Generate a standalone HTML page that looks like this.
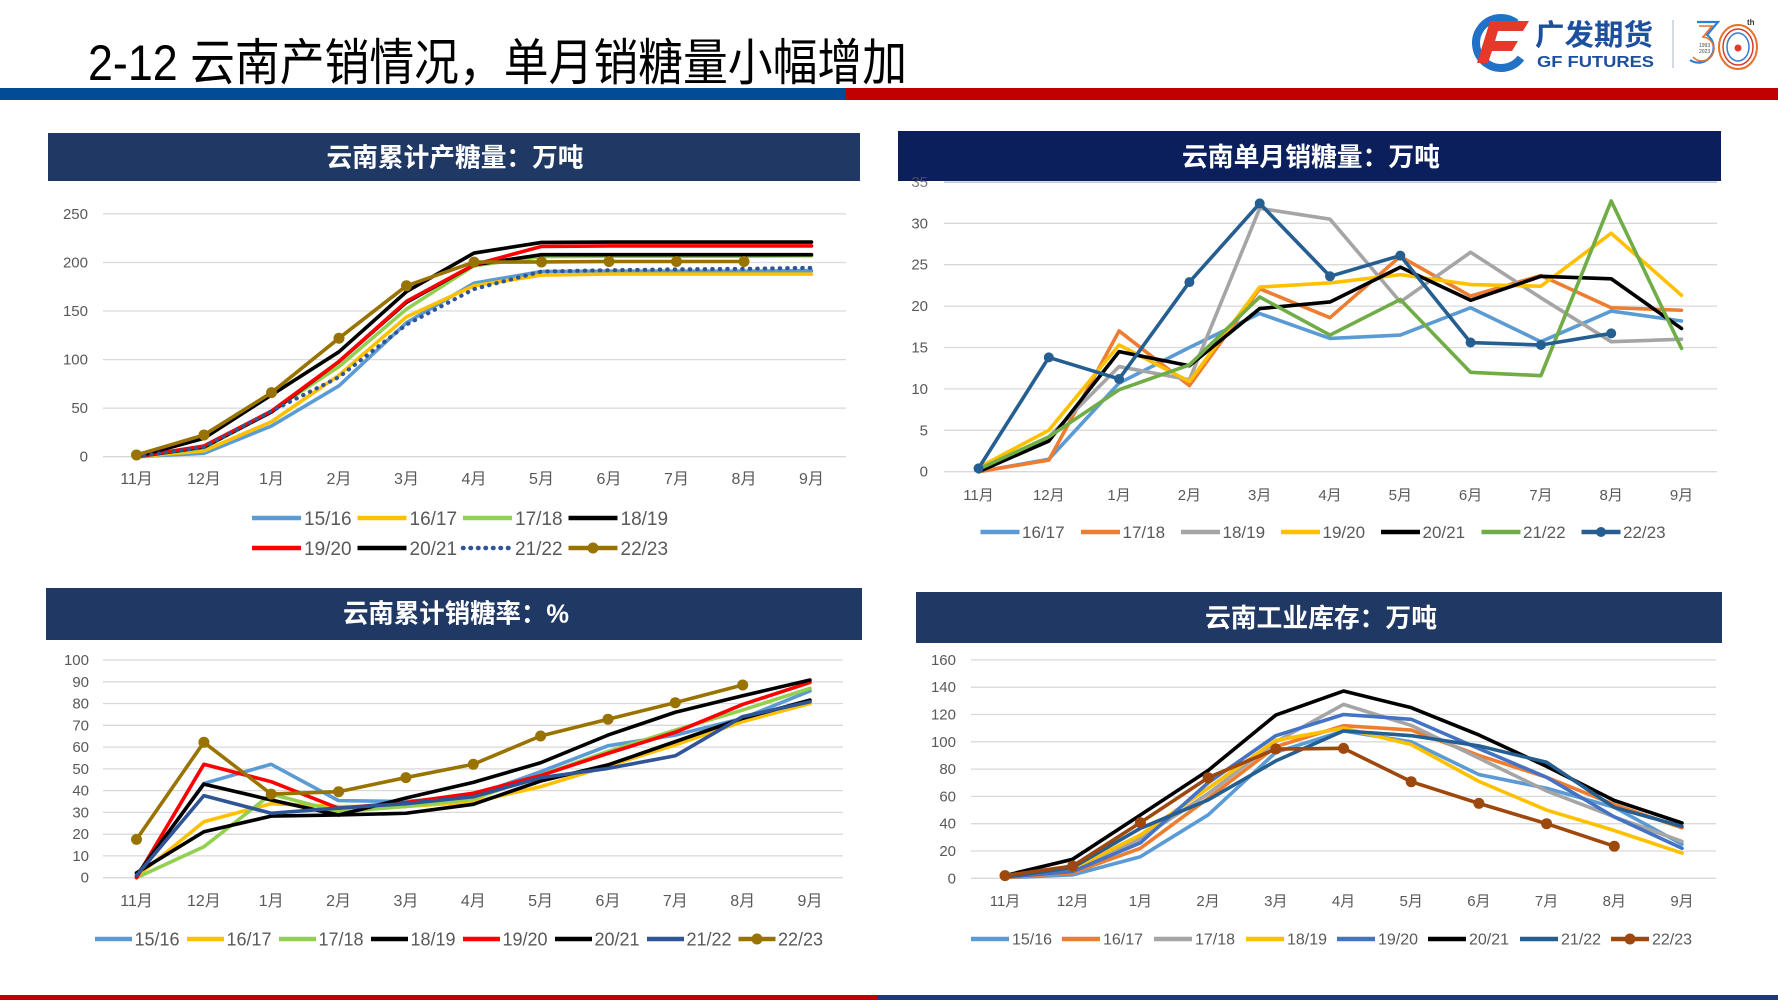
<!DOCTYPE html>
<html>
<head>
<meta charset="utf-8">
<style>
html,body{margin:0;padding:0;background:#fff;}
svg{display:block;}
.t{font-family:"Liberation Sans","Noto Sans CJK SC",sans-serif;}
.ax{font-family:"Liberation Sans","Noto Sans CJK SC",sans-serif;font-size:15px;fill:#595959;}
.xl{font-family:"Liberation Sans","Noto Sans CJK SC",sans-serif;font-size:16px;fill:#595959;text-anchor:middle;}
.yl{text-anchor:end;}
.ct{font-family:"Liberation Sans","Noto Sans CJK SC",sans-serif;font-size:26px;font-weight:bold;fill:#fff;text-anchor:middle;}
.g line{stroke:#d9d9d9;stroke-width:1.3;}
.s polyline{fill:none;vector-effect:non-scaling-stroke;stroke-width:3.6;stroke-linejoin:round;stroke-linecap:round;}
.lg line{stroke-width:4.5;}
.lg text{font-family:"Liberation Sans",sans-serif;fill:#595959;}
</style>
</head>
<body>
<svg width="1778" height="1000" viewBox="0 0 1778 1000" xmlns="http://www.w3.org/2000/svg">
<rect x="0" y="0" width="1778" height="1000" fill="#fff"/>

<!-- header -->
<text class="t" x="88" y="80" font-size="50" fill="#000" textLength="819" lengthAdjust="spacingAndGlyphs">2-12 云南产销情况，单月销糖量小幅增加</text>
<rect x="0" y="88" width="846" height="12" fill="#024c96"/>
<rect x="845" y="88" width="933" height="12" fill="#c00000"/>

<!-- logo -->
<path d="M1516 23 A25 25 0 1 0 1521 58" fill="none" stroke="#2171c7" stroke-width="8"/>
<path d="M1490 21 L1529 21 L1523 31 L1498 31 L1495 41 L1518 41 L1512 51 L1492 51 L1488 63 L1477 63 Z" fill="#e5392a"/>
<text class="t" x="1535" y="45" font-size="29" font-weight="bold" fill="#1d4f9f" textLength="118" lengthAdjust="spacingAndGlyphs">广发期货</text>
<text x="1537" y="67" font-family="Liberation Sans" font-size="16" font-weight="bold" fill="#1d4f9f" textLength="117" lengthAdjust="spacingAndGlyphs">GF FUTURES</text>
<line x1="1673" y1="20" x2="1673" y2="68" stroke="#b8c2d2" stroke-width="1.2"/>
<path d="M1697 22 H1718 L1707 35 A15 15 0 1 1 1690 60" fill="none" stroke="#2f7fd1" stroke-width="2.2"/>
<path d="M1699 26 H1712 L1703 37 A12 12 0 1 1 1693 57" fill="none" stroke="#e8702a" stroke-width="1.6"/>
<ellipse cx="1738" cy="47" rx="19" ry="22" fill="none" stroke="#e8702a" stroke-width="2"/>
<ellipse cx="1738" cy="47" rx="15" ry="18" fill="none" stroke="#d93a2b" stroke-width="1.5"/>
<ellipse cx="1738" cy="47" rx="11" ry="14" fill="none" stroke="#2f7fd1" stroke-width="1.5"/>
<circle cx="1738" cy="48" r="3.5" fill="#e5392a"/>
<text x="1747" y="25" font-family="Liberation Sans" font-size="8" font-weight="bold" fill="#333">th</text>
<text x="1699" y="47" font-family="Liberation Sans" font-size="5" fill="#444">1993</text>
<text x="1699" y="53" font-family="Liberation Sans" font-size="5" fill="#444">2023</text>

<!-- ================= CHART 1 ================= -->
<rect x="48" y="133" width="812" height="48" fill="#203864"/>
<text class="ct" x="455" y="166.5" textLength="257" lengthAdjust="spacingAndGlyphs">云南累计产糖量：万吨</text>
<g class="g">
<line x1="103" x2="846" y1="456.7" y2="456.7"/>
<line x1="103" x2="846" y1="408.1" y2="408.1"/>
<line x1="103" x2="846" y1="359.6" y2="359.6"/>
<line x1="103" x2="846" y1="311.0" y2="311.0"/>
<line x1="103" x2="846" y1="262.5" y2="262.5"/>
<line x1="103" x2="846" y1="213.9" y2="213.9"/>
</g>
<g class="ax yl">
<text x="88" y="461.7">0</text>
<text x="88" y="413.1">50</text>
<text x="88" y="364.6">100</text>
<text x="88" y="316.0">150</text>
<text x="88" y="267.5">200</text>
<text x="88" y="218.9">250</text>
</g>
<g class="xl">
<text x="136.5" y="484">11月</text><text x="204" y="484">12月</text><text x="271.5" y="484">1月</text><text x="339" y="484">2月</text><text x="406.5" y="484">3月</text><text x="474" y="484">4月</text><text x="541.5" y="484">5月</text><text x="609" y="484">6月</text><text x="676.5" y="484">7月</text><text x="744" y="484">8月</text><text x="811.5" y="484">9月</text>
</g>
<g class="s" transform="translate(136.5 456.7) scale(67.5 -0.9712)">
<polyline stroke="#5b9bd5" points="0,0 1,3.5 2,31.6 3,73 4,138 5,178.7 6,190.7 7,191 8,191 9,191 10,191.5"/>
<polyline stroke="#ffc000" points="0,0 1,6 2,36 3,84 4,144 5,176 6,187 7,188 8,188 9,188 10,188"/>
<polyline stroke="#92d050" points="0,0 1,9 2,47 3,92.8 4,152 5,196.6 6,206 7,206.5 8,206.5 9,206.5 10,207"/>
<polyline stroke="#000000" points="0,0 1,10 2,46 3,98 4,159 5,197.5 6,208 7,208 8,208 9,208 10,208"/>
<polyline stroke="#ff0000" points="0,0 1,11 2,47 3,98 4,160 5,197.6 6,216.5 7,217 8,217 9,217 10,217"/>
<polyline stroke="#000000" points="0,0 1,19 2,63.6 3,108 4,170 5,209.7 6,220.6 7,221 8,221 9,221 10,221"/>
</g>
<polyline fill="none" stroke="#2f5597" stroke-width="4" stroke-linecap="round" stroke-dasharray="0.5 7" points="136.5,456.7 204,447.0 271.5,411.1 339,377.1 406.5,324.6 474,289.1 541.5,271.5 609,270.2 676.5,269.3 744,268.8 811.5,267.8"/>
<g class="s" transform="translate(136.5 456.7) scale(67.5 -0.9712)">
<polyline stroke="#997300" points="0,1.8 1,22.4 2,66 3,122 4,176 5,200.4 6,200.5 7,201 8,201 9,201"/>
</g>
<g fill="#997300">
<circle cx="136.5" cy="454.95" r="5.5"/><circle cx="204" cy="434.95" r="5.5"/><circle cx="271.5" cy="392.6" r="5.5"/><circle cx="339" cy="338.2" r="5.5"/><circle cx="406.5" cy="285.8" r="5.5"/><circle cx="474" cy="262.1" r="5.5"/><circle cx="541.5" cy="262.0" r="5.5"/><circle cx="609" cy="261.5" r="5.5"/><circle cx="676.5" cy="261.5" r="5.5"/><circle cx="744" cy="261.5" r="5.5"/>
</g>
<g class="lg" font-size="19">
<line x1="252" x2="301" y1="518" y2="518" stroke="#5b9bd5"/><text x="304" y="524.8">15/16</text>
<line x1="357.5" x2="406.5" y1="518" y2="518" stroke="#ffc000"/><text x="409.5" y="524.8">16/17</text>
<line x1="463" x2="512" y1="518" y2="518" stroke="#92d050"/><text x="515" y="524.8">17/18</text>
<line x1="568.5" x2="617.5" y1="518" y2="518" stroke="#000"/><text x="620.5" y="524.8">18/19</text>
<line x1="252" x2="301" y1="548" y2="548" stroke="#ff0000"/><text x="304" y="554.8">19/20</text>
<line x1="357.5" x2="406.5" y1="548" y2="548" stroke="#000"/><text x="409.5" y="554.8">20/21</text>
<line x1="463" x2="512" y1="548" y2="548" stroke="#2f5597" stroke-width="4" stroke-linecap="round" stroke-dasharray="0.5 7"/><text x="515" y="554.8">21/22</text>
<line x1="568.5" x2="617.5" y1="548" y2="548" stroke="#997300"/><circle cx="593" cy="548" r="5.5" fill="#997300"/><text x="620.5" y="554.8">22/23</text>
</g>

<!-- ================= CHART 2 ================= -->
<rect x="898" y="131" width="823" height="50" fill="#0a1f5c"/>
<text class="ct" x="1311" y="166" textLength="258" lengthAdjust="spacingAndGlyphs">云南单月销糖量：万吨</text>
<g class="g">
<line x1="944" x2="1717" y1="471.7" y2="471.7"/>
<line x1="944" x2="1717" y1="430.3" y2="430.3"/>
<line x1="944" x2="1717" y1="388.9" y2="388.9"/>
<line x1="944" x2="1717" y1="347.5" y2="347.5"/>
<line x1="944" x2="1717" y1="306.1" y2="306.1"/>
<line x1="944" x2="1717" y1="264.7" y2="264.7"/>
<line x1="944" x2="1717" y1="223.3" y2="223.3"/>
<line x1="944" x2="1717" y1="182.2" y2="182.2" style="stroke:#b4c0d8"/>
</g>
<g class="ax yl">
<text x="928" y="476.7">0</text>
<text x="928" y="435.3">5</text>
<text x="928" y="393.9">10</text>
<text x="928" y="352.5">15</text>
<text x="928" y="311.1">20</text>
<text x="928" y="269.7">25</text>
<text x="928" y="228.3">30</text>
<text x="928" y="186.9" fill-opacity="0.8">35</text>
</g>
<g class="xl" font-size="15" style="font-size:15px">
<text x="978.5" y="500">11月</text><text x="1048.8" y="500">12月</text><text x="1119.1" y="500">1月</text><text x="1189.4" y="500">2月</text><text x="1259.7" y="500">3月</text><text x="1330" y="500">4月</text><text x="1400.3" y="500">5月</text><text x="1470.6" y="500">6月</text><text x="1540.9" y="500">7月</text><text x="1611.2" y="500">8月</text><text x="1681.5" y="500">9月</text>
</g>
<g class="s" transform="translate(978.5 471.7) scale(70.3 -8.28)">
<polyline stroke="#5b9bd5" points="0,0 1,1.5 2,10.7 3,15 4,19.1 5,16.1 6,16.5 7,19.8 8,15.7 9,19.4 10,18.2"/>
<polyline stroke="#ed7d31" points="0,0 1,1.4 2,17 3,10.4 4,22.1 5,18.6 6,26 7,21.2 8,23.7 9,19.8 10,19.5"/>
<polyline stroke="#a5a5a5" points="0,0 1,4.2 2,12.7 3,11.1 4,31.8 5,30.5 6,20.5 7,26.5 8,21 9,15.7 10,16"/>
<polyline stroke="#ffc000" points="0,0.5 1,5 2,15.3 3,10.9 4,22.3 5,22.8 6,23.8 7,22.6 8,22.4 9,28.8 10,21.3"/>
<polyline stroke="#000000" points="0,0 1,3.7 2,14.5 3,12.8 4,19.7 5,20.5 6,24.7 7,20.7 8,23.6 9,23.3 10,17.3"/>
<polyline stroke="#70ad47" points="0,0.3 1,4.2 2,9.9 3,12.9 4,21.1 5,16.5 6,20.8 7,12 8,11.6 9,32.7 10,14.9"/>
<polyline stroke="#255e91" points="0,0.4 1,13.8 2,11.2 3,22.9 4,32.4 5,23.6 6,26.1 7,15.6 8,15.3 9,16.7"/>
</g>
<g fill="#255e91">
<circle cx="978.5" cy="468.4" r="5"/><circle cx="1048.8" cy="357.4" r="5"/><circle cx="1119.1" cy="379.0" r="5"/><circle cx="1189.4" cy="282.1" r="5"/><circle cx="1259.7" cy="203.4" r="5"/><circle cx="1330" cy="276.3" r="5"/><circle cx="1400.3" cy="255.6" r="5"/><circle cx="1470.6" cy="342.5" r="5"/><circle cx="1540.9" cy="345.0" r="5"/><circle cx="1611.2" cy="333.4" r="5"/>
</g>
<g class="lg" font-size="17">
<line x1="980.5" x2="1019.5" y1="532" y2="532" stroke="#5b9bd5"/><text x="1022" y="538">16/17</text>
<line x1="1081" x2="1120" y1="532" y2="532" stroke="#ed7d31"/><text x="1122.5" y="538">17/18</text>
<line x1="1181" x2="1220" y1="532" y2="532" stroke="#a5a5a5"/><text x="1222.5" y="538">18/19</text>
<line x1="1281" x2="1320" y1="532" y2="532" stroke="#ffc000"/><text x="1322.5" y="538">19/20</text>
<line x1="1381" x2="1420" y1="532" y2="532" stroke="#000"/><text x="1422.5" y="538">20/21</text>
<line x1="1481.5" x2="1520.5" y1="532" y2="532" stroke="#70ad47"/><text x="1523" y="538">21/22</text>
<line x1="1581.5" x2="1620.5" y1="532" y2="532" stroke="#255e91"/><circle cx="1601" cy="532" r="5" fill="#255e91"/><text x="1623" y="538">22/23</text>
</g>

<!-- ================= CHART 3 ================= -->
<rect x="46" y="588" width="816" height="52" fill="#203864"/>
<text class="ct" x="456" y="622.5" textLength="226" lengthAdjust="spacingAndGlyphs">云南累计销糖率：%</text>
<g class="g">
<line x1="103" x2="843" y1="877.7" y2="877.7"/>
<line x1="103" x2="843" y1="855.9" y2="855.9"/>
<line x1="103" x2="843" y1="834.2" y2="834.2"/>
<line x1="103" x2="843" y1="812.4" y2="812.4"/>
<line x1="103" x2="843" y1="790.6" y2="790.6"/>
<line x1="103" x2="843" y1="768.9" y2="768.9"/>
<line x1="103" x2="843" y1="747.1" y2="747.1"/>
<line x1="103" x2="843" y1="725.3" y2="725.3"/>
<line x1="103" x2="843" y1="703.5" y2="703.5"/>
<line x1="103" x2="843" y1="681.8" y2="681.8"/>
<line x1="103" x2="843" y1="660.0" y2="660.0"/>
</g>
<g class="ax yl">
<text x="89" y="882.7">0</text>
<text x="89" y="860.9">10</text>
<text x="89" y="839.2">20</text>
<text x="89" y="817.4">30</text>
<text x="89" y="795.6">40</text>
<text x="89" y="773.9">50</text>
<text x="89" y="752.1">60</text>
<text x="89" y="730.3">70</text>
<text x="89" y="708.5">80</text>
<text x="89" y="686.8">90</text>
<text x="89" y="665.0">100</text>
</g>
<g class="xl">
<text x="136.5" y="906">11月</text><text x="203.9" y="906">12月</text><text x="271.2" y="906">1月</text><text x="338.6" y="906">2月</text><text x="405.9" y="906">3月</text><text x="473.3" y="906">4月</text><text x="540.6" y="906">5月</text><text x="608" y="906">6月</text><text x="675.3" y="906">7月</text><text x="742.7" y="906">8月</text><text x="810" y="906">9月</text>
</g>
<g class="s" transform="translate(136.5 877.7) scale(67.35 -2.177)">
<polyline stroke="#5b9bd5" points="0,0.5 1,43.3 2,52.1 3,35.4 4,35 5,37.6 6,48.7 7,60.6 8,65.5 9,73.2 10,85.8"/>
<polyline stroke="#ffc000" points="0,0.5 1,25.7 2,34 3,32.7 4,32.7 5,34.8 6,41.8 7,51.3 8,61 9,71.7 10,80"/>
<polyline stroke="#92d050" points="0,0 1,14.2 2,38.4 3,30.3 4,32.7 5,36.1 6,47 7,58 8,67.8 9,77 10,87"/>
<polyline stroke="#000000" points="0,2.2 1,21.1 2,28.3 3,28.8 4,29.6 5,33.7 6,44.4 7,51.8 8,62.5 9,73.2 10,81.6"/>
<polyline stroke="#ff0000" points="0,0 1,52.1 2,44.1 3,31.9 4,34.5 5,38.8 6,46.9 7,57.1 8,66.8 9,79.6 10,89.7"/>
<polyline stroke="#000000" points="0,1 1,43 2,35.7 3,28.8 4,36.6 5,43.8 6,52.8 7,65.5 8,76 9,83.6 10,90.8"/>
<polyline stroke="#2f5597" points="0,1 1,37.7 2,29.6 3,32 4,34 5,37.2 6,45.9 7,50.2 8,56 9,74 10,80.8"/>
<polyline stroke="#997300" points="0,17.6 1,62.2 2,38.4 3,39.5 4,46 5,52.1 6,65.1 7,72.8 8,80.4 9,88.5"/>
</g>
<g fill="#997300">
<circle cx="136.5" cy="839.4" r="5.5"/><circle cx="203.9" cy="742.3" r="5.5"/><circle cx="271.2" cy="794.1" r="5.5"/><circle cx="338.6" cy="791.7" r="5.5"/><circle cx="405.9" cy="777.6" r="5.5"/><circle cx="473.3" cy="764.3" r="5.5"/><circle cx="540.6" cy="736.0" r="5.5"/><circle cx="608" cy="719.2" r="5.5"/><circle cx="675.3" cy="702.7" r="5.5"/><circle cx="742.7" cy="685.0" r="5.5"/>
</g>
<g class="lg" font-size="18">
<line x1="95" x2="132" y1="939" y2="939" stroke="#5b9bd5"/><text x="134.5" y="945.5">15/16</text>
<line x1="187" x2="224" y1="939" y2="939" stroke="#ffc000"/><text x="226.5" y="945.5">16/17</text>
<line x1="279" x2="316" y1="939" y2="939" stroke="#92d050"/><text x="318.5" y="945.5">17/18</text>
<line x1="371" x2="408" y1="939" y2="939" stroke="#000"/><text x="410.5" y="945.5">18/19</text>
<line x1="463" x2="500" y1="939" y2="939" stroke="#ff0000"/><text x="502.5" y="945.5">19/20</text>
<line x1="555" x2="592" y1="939" y2="939" stroke="#000"/><text x="594.5" y="945.5">20/21</text>
<line x1="647" x2="684" y1="939" y2="939" stroke="#2f5597"/><text x="686.5" y="945.5">21/22</text>
<line x1="738.5" x2="775.5" y1="939" y2="939" stroke="#997300"/><circle cx="757" cy="939" r="5.5" fill="#997300"/><text x="778" y="945.5">22/23</text>
</g>

<!-- ================= CHART 4 ================= -->
<rect x="916" y="592" width="806" height="51" fill="#203864"/>
<text class="ct" x="1321" y="627" textLength="232" lengthAdjust="spacingAndGlyphs">云南工业库存：万吨</text>
<g class="g">
<line x1="971" x2="1716" y1="878.3" y2="878.3"/>
<line x1="971" x2="1716" y1="851.0" y2="851.0"/>
<line x1="971" x2="1716" y1="823.7" y2="823.7"/>
<line x1="971" x2="1716" y1="796.4" y2="796.4"/>
<line x1="971" x2="1716" y1="769.1" y2="769.1"/>
<line x1="971" x2="1716" y1="741.8" y2="741.8"/>
<line x1="971" x2="1716" y1="714.5" y2="714.5"/>
<line x1="971" x2="1716" y1="687.2" y2="687.2"/>
<line x1="971" x2="1716" y1="659.9" y2="659.9"/>
</g>
<g class="ax yl">
<text x="956" y="883.3">0</text>
<text x="956" y="856.0">20</text>
<text x="956" y="828.7">40</text>
<text x="956" y="801.4">60</text>
<text x="956" y="774.1">80</text>
<text x="956" y="746.8">100</text>
<text x="956" y="719.5">120</text>
<text x="956" y="692.2">140</text>
<text x="956" y="664.9">160</text>
</g>
<g class="xl" style="font-size:15px">
<text x="1005" y="906">11月</text><text x="1072.7" y="906">12月</text><text x="1140.4" y="906">1月</text><text x="1208.1" y="906">2月</text><text x="1275.8" y="906">3月</text><text x="1343.5" y="906">4月</text><text x="1411.2" y="906">5月</text><text x="1478.9" y="906">6月</text><text x="1546.6" y="906">7月</text><text x="1614.3" y="906">8月</text><text x="1682" y="906">9月</text>
</g>
<g class="s" transform="translate(1005 878.3) scale(67.7 -1.365)">
<polyline stroke="#5b9bd5" points="0,0.5 1,2.5 2,15.8 3,46.4 4,92.3 5,107.9 6,100 7,76 8,66 9,52 10,25"/>
<polyline stroke="#ed7d31" points="0,0.5 1,4 2,22 3,58.6 4,96.4 5,111.8 6,108.6 7,90 8,74 9,54 10,37"/>
<polyline stroke="#a5a5a5" points="0,1 1,6 2,29 3,62 4,100 5,127.4 6,112 7,88 8,64 9,45 10,27"/>
<polyline stroke="#ffc000" points="0,1 1,7 2,31.7 3,66 4,101 5,110 6,98 7,71 8,50 9,35 10,18.5"/>
<polyline stroke="#4472c4" points="0,1 1,5 2,26 3,70 4,104.5 5,120 6,116.5 7,95 8,74 9,45 10,22"/>
<polyline stroke="#000000" points="0,2 1,14 2,46.4 3,79 4,119.6 5,137.2 6,125 7,105 8,82 9,57 10,40.5"/>
<polyline stroke="#255e91" points="0,1 1,8 2,36.6 3,57.4 4,86 5,108 6,104.5 7,97 8,85 9,52 10,38"/>
<polyline stroke="#9e480e" points="0,2 1,9 2,40.8 3,73.7 4,94.7 5,95.2 6,70.8 7,54.9 8,40 9,23.5"/>
</g>
<g fill="#9e480e">
<circle cx="1005" cy="875.6" r="5.5"/><circle cx="1072.7" cy="866.0" r="5.5"/><circle cx="1140.4" cy="822.6" r="5.5"/><circle cx="1208.1" cy="777.7" r="5.5"/><circle cx="1275.8" cy="749.0" r="5.5"/><circle cx="1343.5" cy="748.4" r="5.5"/><circle cx="1411.2" cy="781.7" r="5.5"/><circle cx="1478.9" cy="803.4" r="5.5"/><circle cx="1546.6" cy="823.7" r="5.5"/><circle cx="1614.3" cy="846.2" r="5.5"/>
</g>
<g class="lg" font-size="16">
<line x1="971" x2="1009" y1="939" y2="939" stroke="#5b9bd5"/><text x="1012" y="944.7">15/16</text>
<line x1="1062" x2="1100" y1="939" y2="939" stroke="#ed7d31"/><text x="1103" y="944.7">16/17</text>
<line x1="1154" x2="1192" y1="939" y2="939" stroke="#a5a5a5"/><text x="1195" y="944.7">17/18</text>
<line x1="1246" x2="1284" y1="939" y2="939" stroke="#ffc000"/><text x="1287" y="944.7">18/19</text>
<line x1="1337" x2="1375" y1="939" y2="939" stroke="#4472c4"/><text x="1378" y="944.7">19/20</text>
<line x1="1428" x2="1466" y1="939" y2="939" stroke="#000"/><text x="1469" y="944.7">20/21</text>
<line x1="1520" x2="1558" y1="939" y2="939" stroke="#255e91"/><text x="1561" y="944.7">21/22</text>
<line x1="1611" x2="1649" y1="939" y2="939" stroke="#9e480e"/><circle cx="1630" cy="939" r="5.5" fill="#9e480e"/><text x="1652" y="944.7">22/23</text>
</g>

<!-- bottom bar -->
<rect x="0" y="995" width="878" height="5" fill="#c00000"/>
<rect x="877" y="995" width="901" height="5" fill="#1f3a7a"/>
</svg>
</body>
</html>
